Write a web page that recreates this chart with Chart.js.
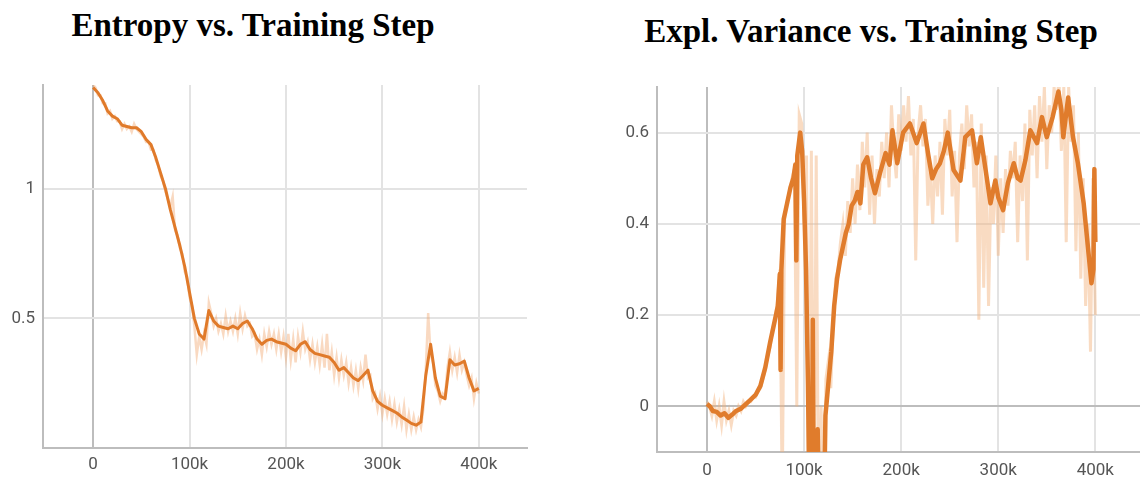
<!DOCTYPE html>
<html>
<head>
<meta charset="utf-8">
<script src="https://cdn.jsdelivr.net/npm/chart.js@4"></script>
<style>
  body { margin: 0; background: #fff; width: 1140px; height: 477px; overflow: hidden; position: relative; }
  .title { position: absolute; font-family: "Liberation Serif", serif; font-weight: bold; font-size: 33px; line-height: 40px; color: #000; white-space: nowrap; transform: translateX(-50%); }
  canvas { position: absolute; top: 0; }
</style>
</head>
<body>
<div class="title" style="left:253px; top:5px;">Entropy vs. Training Step</div>
<div class="title" style="left:871px; top:11px;">Expl. Variance vs. Training Step</div>
<canvas id="entropyChart" width="540" height="477" style="left:0px;"></canvas>
<canvas id="explVarChart" width="570" height="477" style="left:570px;"></canvas>
<script>
// training steps (thousands) for the raw, unsmoothed logs
const rawStepsK = [
  0, 2.5, 5, 7.5, 10, 12.5, 15, 17.5, 20, 22.5,
  25, 27.5, 30, 32.5, 35, 37.5, 40, 42.5, 45, 47.5,
  50, 52.5, 55, 57.5, 60, 62.5, 65, 67.5, 70, 72.5,
  75, 77.5, 80, 82.5, 85, 87.5, 90, 92.5, 95, 97.5,
  100, 102.5, 105, 107.5, 110, 112.5, 115, 117.5, 120, 122.5,
  125, 127.5, 130, 132.5, 135, 137.5, 140, 142.5, 145, 147.5,
  150, 152.5, 155, 157.5, 160, 162.5, 165, 167.5, 170, 172.5,
  175, 177.5, 180, 182.5, 185, 187.5, 190, 192.5, 195, 197.5,
  200, 202.5, 205, 207.5, 210, 212.5, 215, 217.5, 220, 222.5,
  225, 227.5, 230, 232.5, 235, 237.5, 240, 242.5, 245, 247.5,
  250, 252.5, 255, 257.5, 260, 262.5, 265, 267.5, 270, 272.5,
  275, 277.5, 280, 282.5, 285, 287.5, 290, 292.5, 295, 297.5,
  300, 302.5, 305, 307.5, 310, 312.5, 315, 317.5, 320, 322.5,
  325, 327.5, 330, 332.5, 335, 337.5, 340, 342.5, 345, 347.5,
  350, 352.5, 355, 357.5, 360, 362.5, 365, 367.5, 370, 372.5,
  375, 377.5, 380, 382.5, 385, 387.5, 390, 392.5, 395, 397.5,
  400
];

const entropyRaw = [
  1.40, 1.39, 1.36, 1.36, 1.33, 1.33, 1.29, 1.30, 1.27, 1.28,
  1.26, 1.26, 1.23, 1.25, 1.23, 1.24, 1.22, 1.25, 1.23, 1.22,
  1.21, 1.20, 1.18, 1.18, 1.15, 1.15, 1.11, 1.09, 1.05, 1.03,
  0.99, 0.96, 0.93, 0.97, 0.84, 0.82, 0.77, 0.75, 0.68, 0.66,
  0.58, 0.55, 0.47, 0.36, 0.43, 0.38, 0.44, 0.40, 0.56, 0.52,
  0.47, 0.50, 0.45, 0.48, 0.44, 0.51, 0.45, 0.49, 0.45, 0.50,
  0.44, 0.52, 0.46, 0.51, 0.47, 0.48, 0.43, 0.44, 0.38, 0.42,
  0.36, 0.44, 0.39, 0.45, 0.40, 0.44, 0.38, 0.44, 0.37, 0.43,
  0.35, 0.44, 0.34, 0.42, 0.33, 0.43, 0.37, 0.45, 0.38, 0.41,
  0.34, 0.40, 0.33, 0.39, 0.32, 0.40, 0.31, 0.44, 0.30, 0.37,
  0.28, 0.35, 0.27, 0.34, 0.28, 0.33, 0.25, 0.31, 0.24, 0.30,
  0.23, 0.31, 0.26, 0.36, 0.27, 0.28, 0.19, 0.21, 0.15, 0.20,
  0.13, 0.19, 0.13, 0.18, 0.11, 0.17, 0.10, 0.15, 0.09, 0.16,
  0.07, 0.13, 0.07, 0.12, 0.07, 0.11, 0.08, 0.15, 0.30, 0.52,
  0.36, 0.33, 0.24, 0.22, 0.18, 0.21, 0.20, 0.31, 0.37, 0.30,
  0.35, 0.29, 0.36, 0.30, 0.33, 0.28, 0.24, 0.27, 0.19, 0.25,
  0.21
];

const explVarRaw = [
  0.01, 0.0, -0.02, 0.01, -0.03, 0.0, -0.04, 0.01, -0.03, -0.01,
  -0.04, -0.01, -0.02, 0.0, -0.01, 0.01, 0.0, 0.01, 0.01, 0.02,
  0.02, 0.035, 0.04, 0.06, 0.08, 0.11, 0.13, 0.17, 0.19, 0.23,
  0.30, -0.2, 0.42, 0.45, 0.47, 0.50, 0.52, 0.0, 0.64, 0.62,
  0.40, 0.55, -0.3, 0.56, -0.3, 0.55, -0.3, 0.0, -0.3, 0.06,
  0.10, 0.04, 0.18, 0.28, 0.30, 0.36, 0.40, 0.33, 0.45, 0.38,
  0.50, 0.40, 0.53, 0.43, 0.58, 0.48, 0.60, 0.42, 0.55, 0.40,
  0.52, 0.46, 0.58, 0.50, 0.60, 0.48, 0.66, 0.56, 0.50, 0.64,
  0.56, 0.66, 0.58, 0.68, 0.55, 0.63, 0.32, 0.60, 0.66, 0.57,
  0.63, 0.44, 0.52, 0.40, 0.55, 0.46, 0.58, 0.42, 0.63, 0.55,
  0.65, 0.46, 0.56, 0.36, 0.55, 0.62, 0.52, 0.66, 0.57, 0.64,
  0.48, 0.58, 0.19, 0.62, 0.26, 0.55, 0.22, 0.48, 0.40, 0.55,
  0.33, 0.50, 0.38, 0.52, 0.44, 0.56, 0.50, 0.58, 0.36, 0.55,
  0.45, 0.62, 0.32, 0.65, 0.55, 0.66, 0.50, 0.68, 0.58, 0.70,
  0.52, 0.66, 0.60, 0.70, 0.65, 0.72, 0.56, 0.70, 0.36, 0.70,
  0.58, 0.66, 0.34, 0.60, 0.28, 0.50, 0.22, 0.40, 0.12, 0.50,
  0.20
];

// smoothed entropy curve
const entropyStepsK = [
  0, 5, 10, 15, 20, 25, 30, 35, 40, 45,
  50, 55, 60, 65, 70, 75, 80, 85, 90, 95,
  100, 105, 110, 115, 120, 125, 130, 135, 140, 145,
  150, 155, 160, 165, 170, 175, 180, 185, 190, 195,
  200, 205, 210, 215, 220, 225, 230, 235, 240, 245,
  250, 255, 260, 265, 270, 275, 280, 285, 290, 295,
  300, 305, 310, 315, 320, 325, 330, 335, 340, 345,
  350, 355, 360, 365, 370, 375, 380, 385, 390, 395,
  400
];
const entropySmooth = [
  1.39, 1.37, 1.34, 1.30, 1.28, 1.27, 1.245, 1.24, 1.235, 1.235,
  1.22, 1.19, 1.17, 1.12, 1.06, 1.00, 0.92, 0.85, 0.78, 0.70,
  0.60, 0.50, 0.44, 0.42, 0.53, 0.49, 0.47, 0.465, 0.46, 0.47,
  0.46, 0.48, 0.49, 0.46, 0.42, 0.40, 0.415, 0.42, 0.41, 0.405,
  0.40, 0.385, 0.375, 0.40, 0.41, 0.38, 0.365, 0.36, 0.355, 0.35,
  0.33, 0.30, 0.31, 0.29, 0.27, 0.26, 0.28, 0.30, 0.22, 0.18,
  0.165, 0.155, 0.145, 0.135, 0.12, 0.108, 0.095, 0.088, 0.10, 0.28,
  0.40, 0.27, 0.20, 0.19, 0.34, 0.32, 0.325, 0.335, 0.27, 0.22,
  0.23
];

// smoothed explained variance curve
const explVarStepsK = [
  0, 3, 6, 10, 14, 18, 22, 26, 30, 35,
  40, 45, 50, 55, 60, 65, 70, 73, 75, 75.8,
  76.6, 79, 82, 86, 89, 91, 92, 93, 96, 98,
  100, 102, 104, 106, 108, 109, 110, 112, 114, 116,
  118, 120, 122, 125, 128, 131, 134, 137, 140, 143,
  146, 149, 152, 155, 158, 161, 165, 169, 173, 178,
  184, 188, 191, 196, 202, 209, 216, 223, 228, 232,
  236, 240, 244, 248, 254, 261, 266, 273, 278, 282,
  287, 292, 297, 300, 305, 310, 316, 320, 323, 328,
  333, 340, 345, 350, 356, 362, 365, 367, 372, 377,
  382, 388, 393, 396, 398, 399, 400
];
const explVarSmooth = [
  0.005, 0, -0.01, -0.012, -0.02, -0.015, -0.025, -0.018, -0.01, -0.005,
  0.005, 0.015, 0.025, 0.045, 0.085, 0.14, 0.19, 0.22, 0.29, 0.08,
  0.30, 0.41, 0.44, 0.48, 0.50, 0.53, 0.32, 0.55, 0.60, 0.56,
  0.45, 0.30, 0.05, -0.3, -0.3, 0.19, -0.3, -0.3, -0.05, -0.3,
  -0.3, -0.3, -0.02, 0.05, 0.12, 0.22, 0.28, 0.32, 0.35, 0.38,
  0.40, 0.44, 0.45, 0.47, 0.445, 0.53, 0.546, 0.50, 0.467, 0.51,
  0.555, 0.53, 0.605, 0.533, 0.60, 0.62, 0.577, 0.62, 0.55, 0.50,
  0.52, 0.533, 0.56, 0.60, 0.518, 0.495, 0.59, 0.605, 0.533, 0.59,
  0.518, 0.445, 0.495, 0.458, 0.43, 0.49, 0.533, 0.50, 0.495, 0.54,
  0.605, 0.577, 0.634, 0.59, 0.634, 0.69, 0.65, 0.59, 0.677, 0.59,
  0.533, 0.445, 0.335, 0.27, 0.30, 0.52, 0.36
];

const xTickSteps = [0, 100000, 200000, 300000, 400000];

const GRID = '#e3e3e3';
const AXIS = '#bdbdbd';
const TICK_FONT = { family: 'Roboto', size: 17 };
const TICK_COLOR = '#555555';

function toPoints(stepsK, values) {
  return stepsK.map((s, i) => ({ x: s * 1000, y: values[i] }));
}

function fmtStep(v) {
  if (v === 0) return '0';
  return (v / 1000) + 'k';
}

function buildChart(canvasId, cfg) {
  const ctx = document.getElementById(canvasId).getContext('2d');
  return new Chart(ctx, {
    type: 'line',
    data: {
      datasets: [
        {
          data: toPoints(cfg.smoothSteps, cfg.smooth),
          borderColor: cfg.lineColor,
          borderWidth: cfg.lineWidth,
          pointRadius: 0,
          tension: 0,
          clip: 0,
          borderJoinStyle: 'round'
        },
        {
          data: toPoints(rawStepsK, cfg.raw),
          borderColor: cfg.rawColor,
          borderWidth: cfg.rawWidth,
          pointRadius: 0,
          tension: 0,
          clip: 0
        }
      ]
    },
    options: {
      responsive: false,
      animation: false,
      layout: { padding: cfg.padding },
      plugins: { legend: { display: false }, tooltip: { enabled: false }, title: { display: false } },
      scales: {
        x: {
          type: 'linear',
          min: cfg.xMin,
          max: cfg.xMax,
          afterBuildTicks: axis => { axis.ticks = xTickSteps.map(v => ({ value: v })); },
          afterFit: axis => { axis.height = cfg.xAxisHeight; },
          grid: {
            color: c => (c.tick && c.tick.value === 0 ? AXIS : GRID),
            lineWidth: 2,
            drawTicks: false
          },
          border: { display: true, color: AXIS, width: 2 },
          ticks: {
            padding: cfg.xTickPad,
            font: TICK_FONT,
            color: TICK_COLOR,
            maxRotation: 0,
            callback: v => fmtStep(v)
          }
        },
        y: {
          type: 'linear',
          min: cfg.yMin,
          max: cfg.yMax,
          afterBuildTicks: axis => { axis.ticks = cfg.yTicks.map(v => ({ value: v })); },
          afterFit: axis => { axis.width = cfg.yAxisWidth; },
          grid: {
            color: c => (c.tick && c.tick.value === 0 ? AXIS : GRID),
            lineWidth: 2,
            drawTicks: false
          },
          border: { display: true, color: AXIS, width: 2 },
          ticks: {
            padding: 8,
            font: TICK_FONT,
            color: TICK_COLOR,
            callback: v => cfg.yLabel(v)
          }
        }
      }
    }
  });
}

buildChart('entropyChart', {
  smoothSteps: entropyStepsK,
  smooth: entropySmooth,
  raw: entropyRaw,
  lineColor: 'rgb(224,122,42)',
  lineWidth: 3,
  rawColor: 'rgba(240,160,100,0.4)',
  rawWidth: 2.5,
  xMin: -52000, xMax: 450000,
  yMin: 0, yMax: 1.4,
  yTicks: [0, 0.5, 1],
  yLabel: v => (v === 0 ? '' : String(v)),
  padding: { left: 0, right: 13, top: 85, bottom: 0 },
  yAxisWidth: 43,
  xAxisHeight: 29,
  xTickPad: 7
});

buildChart('explVarChart', {
  smoothSteps: explVarStepsK,
  smooth: explVarSmooth,
  raw: explVarRaw,
  lineColor: 'rgb(224,124,44)',
  lineWidth: 4.5,
  rawColor: 'rgba(242,175,120,0.45)',
  rawWidth: 3,
  xMin: -51500, xMax: 446000,
  yMin: -0.1, yMax: 0.7,
  yTicks: [0, 0.2, 0.4, 0.6],
  yLabel: v => String(v),
  padding: { left: 0, right: 0, top: 87, bottom: 0 },
  yAxisWidth: 87,
  xAxisHeight: 25,
  xTickPad: 9
});
</script>
</body>
</html>
